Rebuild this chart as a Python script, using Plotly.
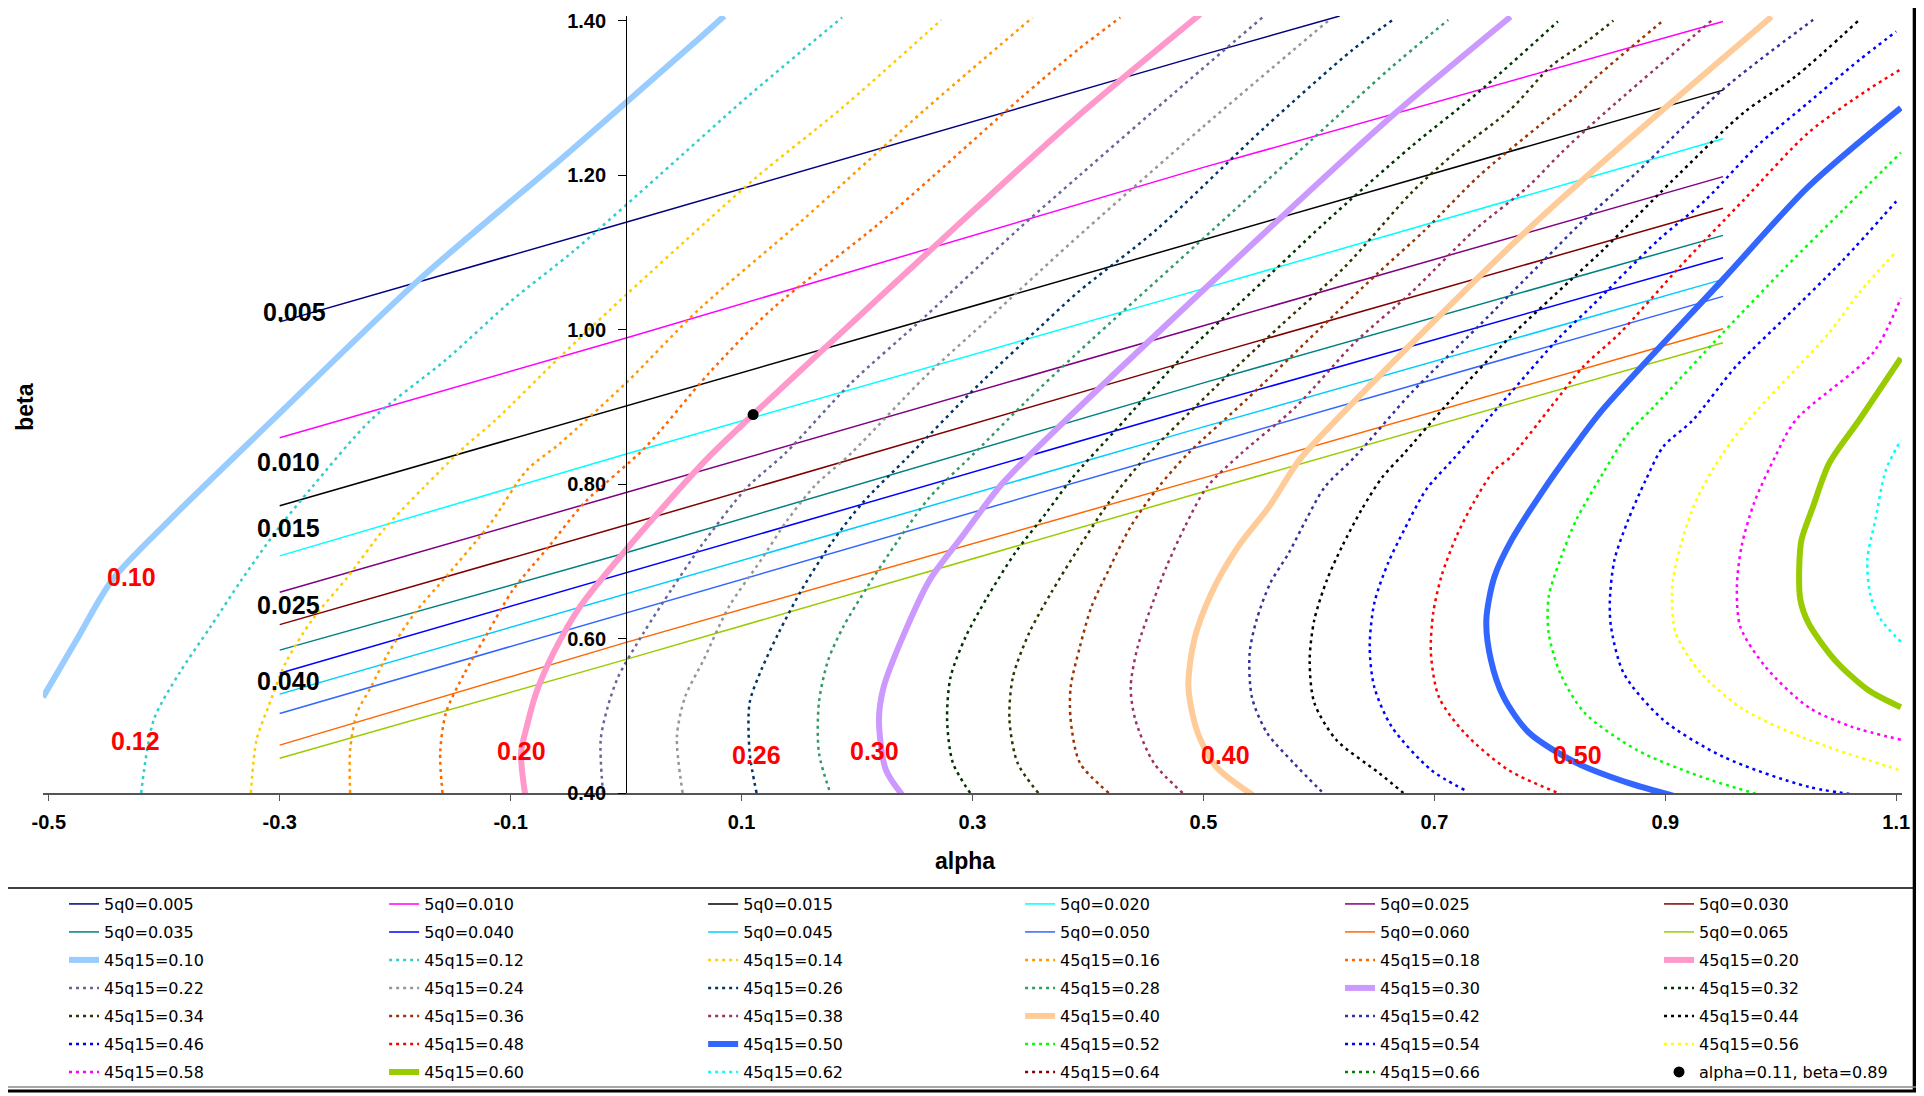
import plotly.graph_objects as go

# ---------------- tick labels ----------------
X_TICKS = [-0.5, -0.3, -0.1, 0.1, 0.3, 0.5, 0.7, 0.9, 1.1]
X_TICK_TEXT = ["-0.5", "-0.3", "-0.1", "0.1", "0.3", "0.5", "0.7", "0.9", "1.1"]
Y_TICKS = [0.4, 0.6, 0.8, 1.0, 1.2, 1.4]
Y_TICK_TEXT = ["0.40", "0.60", "0.80", "1.00", "1.20", "1.40"]

# ---------------- iso-5q0 lines (alpha, beta) ----------------
Q0_NAMES = ["5q0=0.005", "5q0=0.010", "5q0=0.015", "5q0=0.020", "5q0=0.025", "5q0=0.030",
            "5q0=0.035", "5q0=0.040", "5q0=0.045", "5q0=0.050", "5q0=0.060", "5q0=0.065"]
A_Q0_005 = [-0.30, 0.00, 0.50, 0.618]
B_Q0_005 = [1.010, 1.139, 1.356, 1.406]
A_Q0_010 = [-0.30, 0.00, 0.50, 0.95]
B_Q0_010 = [0.860, 0.989, 1.210, 1.399]
A_Q0_015 = [-0.30, 0.00, 0.50, 0.95]
B_Q0_015 = [0.772, 0.901, 1.116, 1.310]
A_Q0_020 = [-0.30, 0.00, 0.50, 0.95]
B_Q0_020 = [0.707, 0.839, 1.053, 1.247]
A_Q0_025 = [-0.30, 0.00, 0.50, 0.95]
B_Q0_025 = [0.660, 0.789, 1.005, 1.198]
A_Q0_030 = [-0.30, 0.00, 0.50, 0.95]
B_Q0_030 = [0.618, 0.747, 0.965, 1.157]
A_Q0_035 = [-0.30, 0.00, 0.50, 0.95]
B_Q0_035 = [0.585, 0.711, 0.931, 1.122]
A_Q0_040 = [-0.30, 0.00, 0.50, 0.95]
B_Q0_040 = [0.555, 0.685, 0.902, 1.093]
A_Q0_045 = [-0.30, 0.00, 0.50, 0.95]
B_Q0_045 = [0.528, 0.658, 0.874, 1.065]
A_Q0_050 = [-0.30, 0.00, 0.50, 0.95]
B_Q0_050 = [0.503, 0.633, 0.850, 1.043]
A_Q0_060 = [-0.30, 0.00, 0.50, 0.95]
B_Q0_060 = [0.462, 0.595, 0.808, 1.001]
A_Q0_065 = [-0.30, 0.00, 0.50, 0.95]
B_Q0_065 = [0.445, 0.573, 0.790, 0.983]

# ---------------- iso-45q15 curves (alpha, beta) ----------------
Q15_NAMES = ["45q15=0.10", "45q15=0.12", "45q15=0.14", "45q15=0.16", "45q15=0.18", "45q15=0.20",
             "45q15=0.22", "45q15=0.24", "45q15=0.26", "45q15=0.28", "45q15=0.30", "45q15=0.32",
             "45q15=0.34", "45q15=0.36", "45q15=0.38", "45q15=0.40", "45q15=0.42", "45q15=0.44",
             "45q15=0.46", "45q15=0.48", "45q15=0.50", "45q15=0.52", "45q15=0.54", "45q15=0.56",
             "45q15=0.58", "45q15=0.60", "45q15=0.62", "45q15=0.64", "45q15=0.66"]
A_Q15_10 = [-0.505, -0.476, -0.445, -0.395, -0.306, -0.179, -0.057, 0.000, 0.064, 0.085]
B_Q15_10 = [0.524, 0.598, 0.676, 0.754, 0.883, 1.065, 1.220, 1.294, 1.378, 1.406]
A_Q15_12 = [-0.420, -0.409, -0.387, -0.360, -0.333, -0.302, -0.272, -0.221, -0.156, -0.098, -0.046, 0.029, 0.104, 0.187]
B_Q15_12 = [0.400, 0.495, 0.555, 0.615, 0.676, 0.741, 0.796, 0.883, 0.961, 1.039, 1.101, 1.200, 1.300, 1.404]
A_Q15_14 = [-0.325, -0.320, -0.310, -0.295, -0.272, -0.241, -0.210, -0.175, -0.140, -0.113, -0.057, 0.000, 0.069, 0.115, 0.187, 0.273]
B_Q15_14 = [0.400, 0.469, 0.511, 0.568, 0.624, 0.680, 0.741, 0.796, 0.848, 0.883, 0.965, 1.045, 1.139, 1.200, 1.287, 1.401]
A_Q15_16 = [-0.239, -0.239, -0.233, -0.221, -0.206, -0.183, -0.156, -0.117, -0.086, -0.057, 0.000, 0.063, 0.150, 0.190, 0.259, 0.352]
B_Q15_16 = [0.400, 0.456, 0.504, 0.537, 0.581, 0.633, 0.680, 0.750, 0.818, 0.853, 0.931, 1.026, 1.138, 1.192, 1.285, 1.404]
A_Q15_18 = [-0.159, -0.161, -0.156, -0.140, -0.120, -0.098, -0.067, -0.036, 0.017, 0.072, 0.126, 0.218, 0.267, 0.342, 0.391, 0.428]
B_Q15_18 = [0.400, 0.452, 0.504, 0.555, 0.607, 0.663, 0.719, 0.776, 0.848, 0.944, 1.026, 1.136, 1.200, 1.300, 1.362, 1.404]
A_Q15_20 = [-0.087, -0.091, -0.086, -0.078, -0.063, -0.040, 0.000, 0.069, 0.110, 0.172, 0.292, 0.391, 0.497]
B_Q15_20 = [0.394, 0.452, 0.486, 0.529, 0.581, 0.641, 0.715, 0.831, 0.890, 0.976, 1.142, 1.276, 1.408]
A_Q15_22 = [-0.020, -0.022, -0.016, -0.007, 0.015, 0.040, 0.065, 0.105, 0.138, 0.195, 0.259, 0.339, 0.393, 0.476, 0.551]
B_Q15_22 = [0.400, 0.469, 0.511, 0.550, 0.607, 0.665, 0.720, 0.796, 0.840, 0.931, 1.017, 1.129, 1.200, 1.308, 1.404]
A_Q15_24 = [0.049, 0.044, 0.051, 0.067, 0.089, 0.117, 0.140, 0.163, 0.195, 0.259, 0.316, 0.385, 0.500, 0.609]
B_Q15_24 = [0.400, 0.473, 0.524, 0.572, 0.641, 0.702, 0.754, 0.797, 0.840, 0.939, 1.017, 1.112, 1.263, 1.401]
A_Q15_26 = [0.113, 0.107, 0.107, 0.117, 0.132, 0.152, 0.178, 0.205, 0.244, 0.307, 0.359, 0.391, 0.459, 0.554, 0.629, 0.664]
B_Q15_26 = [0.400, 0.452, 0.517, 0.559, 0.607, 0.663, 0.724, 0.776, 0.835, 0.931, 1.004, 1.048, 1.129, 1.263, 1.362, 1.401]
A_Q15_28 = [0.178, 0.167, 0.167, 0.175, 0.188, 0.209, 0.236, 0.263, 0.303, 0.345, 0.391, 0.508, 0.594, 0.660, 0.712]
B_Q15_28 = [0.395, 0.452, 0.517, 0.572, 0.615, 0.667, 0.728, 0.783, 0.842, 0.905, 0.970, 1.129, 1.246, 1.336, 1.401]
A_Q15_30 = [0.241, 0.225, 0.219, 0.223, 0.241, 0.263, 0.291, 0.326, 0.381, 0.565, 0.666, 0.766]
B_Q15_30 = [0.394, 0.430, 0.495, 0.537, 0.607, 0.676, 0.732, 0.801, 0.883, 1.142, 1.280, 1.405]
A_Q15_32 = [0.298, 0.283, 0.278, 0.281, 0.294, 0.313, 0.337, 0.364, 0.387, 0.424, 0.482, 0.542, 0.605, 0.680, 0.738, 0.807]
B_Q15_32 = [0.400, 0.439, 0.495, 0.550, 0.602, 0.654, 0.711, 0.763, 0.809, 0.870, 0.965, 1.049, 1.138, 1.237, 1.307, 1.399]
A_Q15_34 = [0.357, 0.339, 0.332, 0.335, 0.349, 0.368, 0.391, 0.418, 0.450, 0.508, 0.566, 0.623, 0.680, 0.718, 0.766, 0.801, 0.832, 0.855]
B_Q15_34 = [0.400, 0.439, 0.495, 0.550, 0.607, 0.659, 0.715, 0.776, 0.835, 0.922, 1.004, 1.082, 1.177, 1.229, 1.285, 1.341, 1.373, 1.400]
A_Q15_36 = [0.418, 0.393, 0.385, 0.385, 0.393, 0.403, 0.418, 0.437, 0.461, 0.487, 0.537, 0.600, 0.651, 0.692, 0.738, 0.790, 0.821, 0.841, 0.898]
B_Q15_36 = [0.400, 0.439, 0.495, 0.537, 0.589, 0.641, 0.689, 0.745, 0.796, 0.840, 0.909, 1.000, 1.073, 1.129, 1.198, 1.263, 1.300, 1.328, 1.400]
A_Q15_38 = [0.482, 0.457, 0.441, 0.437, 0.443, 0.457, 0.468, 0.484, 0.503, 0.533, 0.580, 0.631, 0.680, 0.735, 0.781, 0.810, 0.841, 0.940]
B_Q15_38 = [0.400, 0.439, 0.495, 0.537, 0.589, 0.650, 0.693, 0.745, 0.796, 0.840, 0.900, 0.983, 1.048, 1.129, 1.185, 1.229, 1.272, 1.400]
A_Q15_40 = [0.546, 0.511, 0.495, 0.487, 0.492, 0.507, 0.530, 0.557, 0.583, 0.615, 0.790, 0.992]
B_Q15_40 = [0.394, 0.434, 0.478, 0.537, 0.598, 0.659, 0.719, 0.771, 0.831, 0.883, 1.142, 1.405]
A_Q15_42 = [0.607, 0.578, 0.555, 0.542, 0.540, 0.546, 0.558, 0.574, 0.589, 0.605, 0.631, 0.680, 0.738, 0.795, 0.827, 0.875, 0.950, 1.028]
B_Q15_42 = [0.395, 0.439, 0.478, 0.524, 0.581, 0.624, 0.672, 0.711, 0.754, 0.796, 0.835, 0.918, 1.004, 1.090, 1.138, 1.203, 1.311, 1.401]
A_Q15_44 = [0.678, 0.652, 0.615, 0.596, 0.592, 0.596, 0.607, 0.620, 0.637, 0.655, 0.674, 0.709, 0.766, 0.818, 0.846, 0.913, 0.968, 1.013, 1.068]
B_Q15_44 = [0.394, 0.426, 0.469, 0.517, 0.572, 0.624, 0.676, 0.719, 0.767, 0.809, 0.840, 0.900, 0.991, 1.064, 1.103, 1.203, 1.281, 1.328, 1.401]
A_Q15_46 = [0.726, 0.697, 0.663, 0.648, 0.644, 0.648, 0.660, 0.674, 0.693, 0.718, 0.766, 0.809, 0.836, 0.894, 0.935, 0.979, 1.024, 1.068, 1.100]
B_Q15_46 = [0.404, 0.430, 0.486, 0.537, 0.589, 0.646, 0.698, 0.741, 0.793, 0.835, 0.918, 0.991, 1.030, 1.116, 1.168, 1.237, 1.294, 1.349, 1.386]
A_Q15_48 = [0.817, 0.764, 0.726, 0.704, 0.697, 0.699, 0.706, 0.719, 0.734, 0.752, 0.766, 0.801, 0.829, 0.861, 0.913, 0.968, 1.024, 1.076, 1.104]
B_Q15_48 = [0.394, 0.430, 0.478, 0.524, 0.581, 0.633, 0.680, 0.732, 0.776, 0.818, 0.835, 0.900, 0.952, 0.996, 1.082, 1.168, 1.255, 1.311, 1.337]
A_Q15_50 = [0.913, 0.868, 0.823, 0.782, 0.760, 0.749, 0.745, 0.752, 0.767, 0.793, 0.819, 0.845, 0.950, 1.024, 1.104]
B_Q15_50 = [0.394, 0.413, 0.439, 0.478, 0.524, 0.572, 0.624, 0.680, 0.728, 0.789, 0.844, 0.895, 1.065, 1.185, 1.287]
A_Q15_52 = [0.990, 0.931, 0.875, 0.830, 0.809, 0.799, 0.799, 0.809, 0.823, 0.846, 0.868, 0.890, 0.950, 1.005, 1.054, 1.104]
B_Q15_52 = [0.394, 0.421, 0.456, 0.504, 0.555, 0.607, 0.654, 0.702, 0.754, 0.814, 0.866, 0.900, 0.996, 1.082, 1.155, 1.229]
A_Q15_54 = [1.084, 1.024, 0.950, 0.898, 0.864, 0.853, 0.852, 0.856, 0.868, 0.883, 0.898, 0.924, 0.961, 1.005, 1.054, 1.100]
B_Q15_54 = [0.394, 0.408, 0.447, 0.495, 0.555, 0.615, 0.650, 0.702, 0.754, 0.805, 0.848, 0.883, 0.952, 1.017, 1.090, 1.166]
A_Q15_56 = [1.102, 1.024, 0.968, 0.931, 0.909, 0.906, 0.913, 0.927, 0.950, 0.972, 1.042, 1.068, 1.100]
B_Q15_56 = [0.430, 0.469, 0.508, 0.555, 0.607, 0.667, 0.719, 0.780, 0.840, 0.883, 0.996, 1.048, 1.101]
A_Q15_58 = [1.104, 1.061, 1.024, 0.987, 0.965, 0.962, 0.966, 0.977, 0.995, 1.013, 1.080, 1.104]
B_Q15_58 = [0.469, 0.486, 0.511, 0.563, 0.615, 0.667, 0.719, 0.776, 0.835, 0.883, 0.970, 1.041]
A_Q15_60 = [1.104, 1.076, 1.047, 1.024, 1.017, 1.016, 1.018, 1.028, 1.042, 1.068, 1.104]
B_Q15_60 = [0.511, 0.533, 0.572, 0.620, 0.650, 0.693, 0.728, 0.771, 0.827, 0.883, 0.963]
A_Q15_62 = [1.104, 1.087, 1.078, 1.075, 1.082, 1.091, 1.104]
B_Q15_62 = [0.596, 0.624, 0.654, 0.702, 0.754, 0.818, 0.857]
# these two contours lie entirely outside the plotted window (legend only)
A_Q15_64 = [None]
B_Q15_64 = [None]
A_Q15_66 = [None]
B_Q15_66 = [None]

# ---------------- reference point ----------------
POINT_NAME = "alpha=0.11, beta=0.89"
POINT_ALPHA = [0.11]
POINT_BETA = [0.89]

# ---------------- contour labels ----------------
Q0_LABELS = ["0.005", "0.010", "0.015", "0.025", "0.040"]
Q0_LABEL_ALPHA = [-0.287, -0.292, -0.292, -0.292, -0.292]
Q0_LABEL_BETA = [1.023, 0.828, 0.743, 0.644, 0.545]
Q15_LABELS = ["0.10", "0.12", "0.20", "0.26", "0.30", "0.40", "0.50"]
Q15_LABEL_ALPHA = [-0.428, -0.425, -0.091, 0.113, 0.215, 0.519, 0.824]
Q15_LABEL_BETA = [0.680, 0.467, 0.454, 0.449, 0.454, 0.449, 0.449]

# ---------------- styles ----------------
Q0_COLORS = ["#000080", "#FF00FF", "#000000", "#00FFFF", "#800080", "#800000",
             "#008080", "#0000FF", "#00CCFF", "#3366FF", "#FF6600", "#99CC00"]
Q15_COLORS = ["#99CCFF", "#33CCCC", "#FFCC00", "#FF9900", "#FF6600", "#FF99CC",
              "#666699", "#969696", "#003366", "#339966", "#CC99FF", "#003300",
              "#333300", "#993300", "#993366", "#FFCC99", "#333399", "#000000",
              "#0000FF", "#FF0000", "#3366FF", "#00FF00", "#0000FF", "#FFFF00",
              "#FF00FF", "#99CC00", "#00FFFF", "#800000", "#008000"]
THICK = {"45q15=0.10", "45q15=0.20", "45q15=0.30", "45q15=0.40", "45q15=0.50", "45q15=0.60"}

q0_data = [(A_Q0_005, B_Q0_005), (A_Q0_010, B_Q0_010), (A_Q0_015, B_Q0_015), (A_Q0_020, B_Q0_020),
           (A_Q0_025, B_Q0_025), (A_Q0_030, B_Q0_030), (A_Q0_035, B_Q0_035), (A_Q0_040, B_Q0_040),
           (A_Q0_045, B_Q0_045), (A_Q0_050, B_Q0_050), (A_Q0_060, B_Q0_060), (A_Q0_065, B_Q0_065)]
q15_data = [(A_Q15_10, B_Q15_10), (A_Q15_12, B_Q15_12), (A_Q15_14, B_Q15_14), (A_Q15_16, B_Q15_16),
            (A_Q15_18, B_Q15_18), (A_Q15_20, B_Q15_20), (A_Q15_22, B_Q15_22), (A_Q15_24, B_Q15_24),
            (A_Q15_26, B_Q15_26), (A_Q15_28, B_Q15_28), (A_Q15_30, B_Q15_30), (A_Q15_32, B_Q15_32),
            (A_Q15_34, B_Q15_34), (A_Q15_36, B_Q15_36), (A_Q15_38, B_Q15_38), (A_Q15_40, B_Q15_40),
            (A_Q15_42, B_Q15_42), (A_Q15_44, B_Q15_44), (A_Q15_46, B_Q15_46), (A_Q15_48, B_Q15_48),
            (A_Q15_50, B_Q15_50), (A_Q15_52, B_Q15_52), (A_Q15_54, B_Q15_54), (A_Q15_56, B_Q15_56),
            (A_Q15_58, B_Q15_58), (A_Q15_60, B_Q15_60), (A_Q15_62, B_Q15_62), (A_Q15_64, B_Q15_64),
            (A_Q15_66, B_Q15_66)]

FONT = "Liberation Sans, Arial, sans-serif"
LEGEND_FONT = "DejaVu Sans, Liberation Sans, sans-serif"
N_COLS = 6
LEGEND_X = [0.0113, 0.1835, 0.3551, 0.5256, 0.6977, 0.8693]


def legend_ref(i):
    c = i % N_COLS
    return "legend" if c == 0 else "legend%d" % (c + 1)


fig = go.Figure()
idx = 0
for name, color, (a, b) in zip(Q0_NAMES, Q0_COLORS, q0_data):
    fig.add_trace(go.Scatter(x=a, y=b, mode="lines", name=name,
                             line=dict(color=color, width=1.5),
                             legend=legend_ref(idx), legendgroup="g%d" % idx))
    idx += 1
for name, color, (a, b) in zip(Q15_NAMES, Q15_COLORS, q15_data):
    if name in THICK:
        ln = dict(color=color, width=6, shape="spline", smoothing=0.8)
    else:
        ln = dict(color=color, width=2.5, dash="3px,4px", shape="spline", smoothing=0.8)
    fig.add_trace(go.Scatter(x=a, y=b, mode="lines", name=name, line=ln,
                             legend=legend_ref(idx), legendgroup="g%d" % idx))
    idx += 1
fig.add_trace(go.Scatter(x=POINT_ALPHA, y=POINT_BETA, mode="markers", name=POINT_NAME,
                         marker=dict(color="black", size=11),
                         legend=legend_ref(idx), legendgroup="g%d" % idx))

# contour labels
for t, ax, ay in zip(Q0_LABELS, Q0_LABEL_ALPHA, Q0_LABEL_BETA):
    fig.add_annotation(x=ax, y=ay, xref="x", yref="y", text="<b>%s</b>" % t, showarrow=False,
                       font=dict(family=FONT, size=25, color="black"))
for t, ax, ay in zip(Q15_LABELS, Q15_LABEL_ALPHA, Q15_LABEL_BETA):
    fig.add_annotation(x=ax, y=ay, xref="x", yref="y", text="<b>%s</b>" % t, showarrow=False,
                       font=dict(family=FONT, size=25, color="#FF0000"))

# axis titles
fig.add_annotation(x=-0.0097, y=0.497, xref="paper", yref="paper", text="<b>beta</b>",
                   textangle=-90, showarrow=False, xanchor="center", yanchor="middle",
                   font=dict(family=FONT, size=23, color="black"))
fig.add_annotation(x=0.496, y=-0.0875, xref="paper", yref="paper", text="<b>alpha</b>",
                   showarrow=False, xanchor="center", yanchor="middle",
                   font=dict(family=FONT, size=23, color="black"))

# frame lines of chart area / legend
frame = [
    dict(x0=-0.0221, x1=-0.0221, y0=1.03, y1=-0.384, w=4, c="black"),
    dict(x0=1.0071, x1=1.0071, y0=1.03, y1=-0.384, w=5, c="black"),
    dict(x0=-0.0231, x1=1.0085, y0=-0.1223, y1=-0.1223, w=1.5, c="black"),
    dict(x0=-0.0231, x1=1.0085, y0=-0.3785, y1=-0.3785, w=1.5, c="#888888"),
    dict(x0=-0.0231, x1=1.0085, y0=-0.3835, y1=-0.3835, w=3, c="black"),
]
for f in frame:
    fig.add_shape(type="line", xref="paper", yref="paper", x0=f["x0"], x1=f["x1"],
                  y0=f["y0"], y1=f["y1"], line=dict(color=f["c"], width=f["w"]))

axis_font = dict(family=FONT, size=20, color="black", weight="bold")
fig.update_layout(
    width=1916, height=1088,
    margin=dict(l=35, r=22, t=8, b=303, autoexpand=False),
    paper_bgcolor="white", plot_bgcolor="white",
    showlegend=True,
    xaxis=dict(range=[-0.505, 1.105], tickmode="array", tickvals=X_TICKS, ticktext=X_TICK_TEXT,
               showgrid=False, zeroline=False, showline=True, linecolor="#555555", linewidth=1.5,
               ticks="outside", ticklen=6, tickcolor="#555555", tickfont=axis_font,
               ticklabelstandoff=4),
    yaxis=dict(range=[0.4, 1.406], tickmode="array", tickvals=Y_TICKS, ticktext=Y_TICK_TEXT,
               anchor="free", position=0.31366, showgrid=False, zeroline=False,
               showline=True, linecolor="black", linewidth=1, ticks="outside", ticklen=8,
               tickcolor="black", tickfont=axis_font, ticklabelstandoff=8),
)
for c in range(N_COLS):
    key = "legend" if c == 0 else "legend%d" % (c + 1)
    fig.update_layout(**{key: dict(x=LEGEND_X[c], y=-0.121, xanchor="left", yanchor="top",
                                   orientation="v", bgcolor="rgba(0,0,0,0)", borderwidth=0,
                                   tracegroupgap=4.2,
                                   font=dict(family=LEGEND_FONT, size=16, color="black"))})

fig.write_html("out.html")
